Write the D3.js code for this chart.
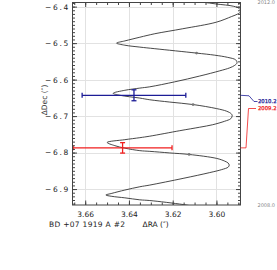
<!DOCTYPE html>
<html>
<head>
<meta charset="utf-8">
<script src="https://cdn.jsdelivr.net/npm/d3@7"></script>
<style>
  body { margin: 0; background: #fff; }
  text { font-family: "DejaVu Sans", sans-serif; }
</style>
</head>
<body>
<svg id="chart" width="277" height="270"></svg>
<script>
// model orbit track, 2008.0 (bottom) -> 2012.0 (top)
var trackRA = [3.60991, 3.61525, 3.63046, 3.63502, 3.64187, 3.64781, 3.65055, 3.64781, 3.64187, 3.63502,
  3.63046, 3.61525, 3.60306, 3.59758, 3.59461, 3.59416, 3.59461, 3.59621, 3.59986, 3.61251,
  3.62132, 3.63046, 3.63502, 3.64187, 3.64644, 3.64995, 3.64187, 3.63502, 3.63046, 3.61676,
  3.60763, 3.60169, 3.59621, 3.59347, 3.59279, 3.59324, 3.59530, 3.60000, 3.61068, 3.62132,
  3.63046, 3.63502, 3.64416, 3.64721, 3.64187, 3.63502, 3.63046, 3.61904, 3.60763, 3.59849,
  3.59393, 3.59164, 3.59059, 3.59119, 3.59484, 3.60078, 3.60913, 3.62817, 3.63502, 3.64187,
  3.64566, 3.64187, 3.63502, 3.62817, 3.61539, 3.60000, 3.59301, 3.59027, 3.58890, 3.58959,
  3.59210, 3.60000, 3.60626, 3.61447];
var trackDec = [-6.94785, -6.94238, -6.93144, -6.92953, -6.92406, -6.91996, -6.91640, -6.91176, -6.90273, -6.89371,
  -6.88906, -6.87075, -6.85488, -6.84668, -6.83985, -6.83438, -6.82891, -6.82344, -6.81606, -6.80513,
  -6.80102, -6.79665, -6.79474, -6.78790, -6.78107, -6.77232, -6.76466, -6.75919, -6.75509, -6.74005,
  -6.73048, -6.72365, -6.71408, -6.70724, -6.69904, -6.69357, -6.68674, -6.67936, -6.66842, -6.66159,
  -6.65530, -6.65065, -6.64299, -6.63753, -6.62932, -6.62331, -6.61975, -6.60608, -6.59023, -6.57601,
  -6.56781, -6.56097, -6.55414, -6.54593, -6.53910, -6.53308, -6.52734, -6.51531, -6.51094, -6.50574,
  -6.50000, -6.49398, -6.48387, -6.47430, -6.46063, -6.44258, -6.42700, -6.42016, -6.41333, -6.40513,
  -6.39911, -6.39282, -6.38790, -6.38325];

// epochs marked on the track
var dotRA = [3.6091, 3.6107, 3.6125];
var dotDec = [-6.5273, -6.6684, -6.8051];

// measurements
var obsLabel = ["2010.2", "2009.2"];
var obsColor = ["#1c1c96", "#f01e1e"];
var obsRA = [3.6377, 3.6429];
var obsRAerr = [0.0237, 0.0226];
var obsDec = [-6.6430, -6.7871];
var obsDecErr = [0.0150, 0.0143];

var xTicks = [3.66, 3.64, 3.62, 3.60];
var xTickLabels = ["3.66", "3.64", "3.62", "3.60"];
var yTicks = [-6.4, -6.5, -6.6, -6.7, -6.8, -6.9];
var yTickLabels = ["\u22126.4", "\u22126.5", "\u22126.6", "\u22126.7", "\u22126.8", "\u22126.9"];
var epochStart = "2008.0", epochEnd = "2012.0";

var plotL = 72.5, plotR = 240.5, plotT = 2.5, plotB = 205;

var x = d3.scaleLinear().domain([3.6658, 3.5890]).range([plotL, plotR]);
var y = d3.scaleLinear().domain([-6.3887, -6.9437]).range([plotT, plotB]);

var svg = d3.select("#chart");

svg.append("defs").append("clipPath").attr("id", "clip")
  .append("rect").attr("x", plotL).attr("y", plotT)
  .attr("width", plotR - plotL).attr("height", plotB - plotT);

// grid
var grid = svg.append("g").attr("stroke", "#e2e2e2").attr("stroke-width", 1);
grid.selectAll(".gx").data(xTicks).enter().append("line")
  .attr("x1", d => Math.round(x(d)) + 0.5).attr("x2", d => Math.round(x(d)) + 0.5)
  .attr("y1", plotT).attr("y2", plotB);
grid.selectAll(".gy").data(yTicks).enter().append("line")
  .attr("y1", d => Math.round(y(d)) + 0.5).attr("y2", d => Math.round(y(d)) + 0.5)
  .attr("x1", plotL).attr("x2", plotR);

// track
var line = d3.line()
  .x(i => x(trackRA[i]))
  .y(i => y(trackDec[i]))
  .curve(d3.curveCatmullRom.alpha(0.5));

var plot = svg.append("g").attr("clip-path", "url(#clip)");
plot.append("path")
  .attr("d", line(d3.range(trackRA.length)))
  .attr("fill", "none")
  .attr("stroke", "#333")
  .attr("stroke-width", 0.9);

plot.selectAll(".dot").data(dotRA).enter().append("circle")
  .attr("cx", (d, i) => x(d)).attr("cy", (d, i) => y(dotDec[i]))
  .attr("r", 1.4).attr("fill", "#777");

// error bars
obsRA.forEach(function(ra, i) {
  var g = svg.append("g").attr("stroke", obsColor[i]).attr("stroke-width", 1.3).attr("fill", "none");
  var cy = y(obsDec[i]), cx = x(ra);
  var x0 = x(ra + obsRAerr[i]), x1 = x(ra - obsRAerr[i]);
  var y0 = y(obsDec[i] + obsDecErr[i]), y1 = y(obsDec[i] - obsDecErr[i]);
  g.append("line").attr("x1", x0).attr("x2", x1).attr("y1", cy).attr("y2", cy);
  g.append("line").attr("x1", x0).attr("x2", x0).attr("y1", cy - 2.5).attr("y2", cy + 2.5);
  g.append("line").attr("x1", x1).attr("x2", x1).attr("y1", cy - 2.5).attr("y2", cy + 2.5);
  g.append("line").attr("x1", cx).attr("x2", cx).attr("y1", y0).attr("y2", y1);
  g.append("line").attr("x1", cx - 2.5).attr("x2", cx + 2.5).attr("y1", y0).attr("y2", y0);
  g.append("line").attr("x1", cx - 2.5).attr("x2", cx + 2.5).attr("y1", y1).attr("y2", y1);
});

// axes (ticks inward)
function styleAxis(g) {
  g.select(".domain").remove();
  g.selectAll(".tick line").attr("stroke", "#444");
  g.selectAll("text").attr("fill", "#222").style("font-size", "7.5px").style("font-family", "DejaVu Sans");
}
var xMinor = d3.range(3.665, 3.588, -0.005);
var yMinor = d3.range(-6.39, -6.944, -0.01);

svg.append("g").attr("transform", `translate(0,${plotB})`)
  .call(d3.axisBottom(x).tickValues(xTicks).tickFormat((d, i) => xTickLabels[i]).tickSize(-4.5).tickPadding(6.5))
  .call(styleAxis);
svg.append("g").attr("transform", `translate(0,${plotB})`)
  .call(d3.axisBottom(x).tickValues(xMinor).tickFormat("").tickSize(-2.5)).call(styleAxis);
svg.append("g").attr("transform", `translate(0,${plotT})`)
  .call(d3.axisTop(x).tickValues(xTicks).tickFormat("").tickSize(-4.5)).call(styleAxis);
svg.append("g").attr("transform", `translate(0,${plotT})`)
  .call(d3.axisTop(x).tickValues(xMinor).tickFormat("").tickSize(-2.5)).call(styleAxis);

svg.append("g").attr("transform", `translate(${plotL},0)`)
  .call(d3.axisLeft(y).tickValues(yTicks).tickFormat((d, i) => yTickLabels[i]).tickSize(-4.5).tickPadding(2.5))
  .call(styleAxis)
  .selectAll("text").style("letter-spacing", "1.7px");
svg.append("g").attr("transform", `translate(${plotL},0)`)
  .call(d3.axisLeft(y).tickValues(yMinor).tickFormat("").tickSize(-2.5)).call(styleAxis);
svg.append("g").attr("transform", `translate(${plotR},0)`)
  .call(d3.axisRight(y).tickValues(yTicks).tickFormat("").tickSize(-4.5)).call(styleAxis);
svg.append("g").attr("transform", `translate(${plotR},0)`)
  .call(d3.axisRight(y).tickValues(yMinor).tickFormat("").tickSize(-2.5)).call(styleAxis);

svg.append("rect")
  .attr("x", plotL).attr("y", plotT).attr("width", plotR - plotL).attr("height", plotB - plotT)
  .attr("fill", "none").attr("stroke", "#444").attr("stroke-width", 1);

// axis titles
svg.append("text").attr("x", 49).attr("y", 226.5)
  .style("font-size", "7.5px").style("letter-spacing", "0.3px").attr("fill", "#222")
  .text("BD +07 1919 A #2");
svg.append("text").attr("x", 142.5).attr("y", 226.5)
  .style("font-size", "7.5px").attr("fill", "#222")
  .text("\u0394RA (\u2033)");
svg.append("text").attr("transform", "translate(46.5,100) rotate(-90)")
  .attr("text-anchor", "middle")
  .style("font-size", "7.5px").attr("fill", "#333")
  .text("\u0394Dec (\u2033)");

// epoch range
svg.append("text").attr("x", 257.5).attr("y", 3.5)
  .style("font-size", "5px").attr("fill", "#888").text(epochEnd);
svg.append("text").attr("x", 257.5).attr("y", 207)
  .style("font-size", "5px").attr("fill", "#888").text(epochStart);

// labels for the measurements, with leader lines
var labelY = [101.5, 108.5];
obsRA.forEach(function(ra, i) {
  var cy = y(obsDec[i]);
  var pts = i === 0
    ? [[plotR, cy], [plotR + 8.5, cy + 0.5], [plotR + 13.5, labelY[i]], [plotR + 17, labelY[i]]]
    : [[plotR, cy], [plotR + 5.5, cy], [plotR + 8, labelY[i]], [plotR + 15.5, labelY[i]]];
  svg.append("path").attr("d", d3.line()(pts))
    .attr("fill", "none").attr("stroke", obsColor[i]).attr("stroke-width", 0.8);
  svg.append("text").attr("x", plotR + 17.5).attr("y", labelY[i])
    .attr("dy", "0.35em")
    .style("font-size", "5.3px").attr("fill", obsColor[i])
    .attr("stroke", obsColor[i]).attr("stroke-width", 0.25)
    .text(obsLabel[i]);
});
</script>
</body>
</html>
